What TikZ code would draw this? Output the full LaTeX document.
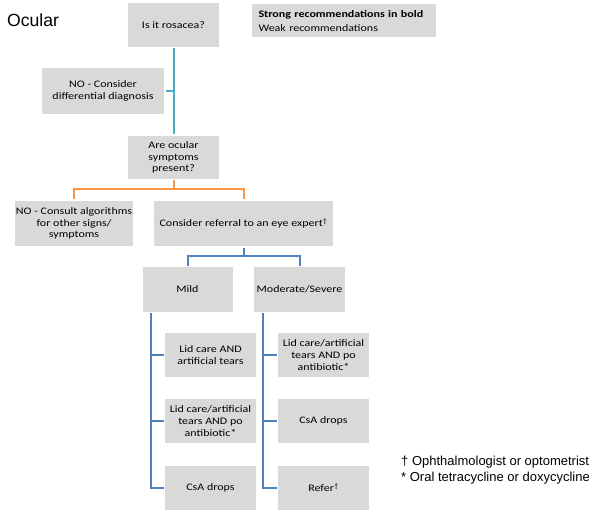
\documentclass[tikz,border=0pt]{standalone}
\usepackage{fontspec}
\setmainfont{Carlito}[FakeStretch=1.2]
\newfontfamily\arialf{Liberation Sans}
\definecolor{boxgray}{HTML}{D9D9D9}
\definecolor{teal1}{HTML}{4BACC6}
\definecolor{orange1}{HTML}{F79646}
\definecolor{blue1}{HTML}{4F81BD}
\tikzset{
  box/.style={fill=boxgray, inner sep=0pt, outer sep=1.5pt, align=center,
    font=\fontsize{10}{11.7}\selectfont, text=black},
  conn/.style={line width=2pt},
}
\begin{document}
\begin{tikzpicture}[x=1pt,y=-1pt]
\useasboundingbox (0,0) rectangle (594,513);
% title
\node[font=\arialf\fontsize{17.6}{20}\selectfont, anchor=base west, inner sep=0pt, text=black] (title) at (7,26.8) {Ocular};
% legend
\node[box, anchor=north west, minimum height=33pt, text width=170pt, inner xsep=7pt, align=left,
  font=\fontsize{10}{14}\selectfont] (legend) at (250,3)
  {\textbf{Strong recommendations in bold}\\Weak recommendations};
% boxes
\node[box, minimum width=91pt, minimum height=44pt] (rosacea) at (173.5,25) {Is it rosacea?};
\node[box, minimum width=122pt, minimum height=46pt] (ddx) at (103,91) {NO - Consider\\differential diagnosis};
\node[box, minimum width=91pt, minimum height=43pt] (ocular) at (173.5,157.5) {Are ocular\\symptoms\\present?};
\node[box, minimum width=118pt, minimum height=45pt] (consult) at (74,223.5) {NO - Consult algorithms\\for other signs/\\symptoms};
\node[box, minimum width=179pt, minimum height=45pt] (referral) at (243.5,223.5) {Consider referral to an eye expert\textsuperscript{†}};
\node[box, minimum width=90pt, minimum height=45pt] (mild) at (187.5,289.5) {Mild};
\node[box, minimum width=91pt, minimum height=45pt] (mod) at (299.5,289.5) {Moderate/Severe};
% mild children
\node[box, minimum width=91pt, minimum height=44pt] (m1) at (210.5,355) {Lid care AND\\artificial tears};
\node[box, minimum width=91pt, minimum height=44pt] (m2) at (210.5,421) {Lid care/artificial\\tears AND po\\antibiotic*};
\node[box, minimum width=91pt, minimum height=44pt] (m3) at (210.5,487.5) {CsA drops};
% moderate children
\node[box, minimum width=91pt, minimum height=44pt] (s1) at (323.5,355) {Lid care/artificial\\tears AND po\\antibiotic*};
\node[box, minimum width=91pt, minimum height=44pt] (s2) at (323.5,421) {CsA drops};
\node[box, minimum width=91pt, minimum height=44pt] (s3) at (323.5,487.5) {Refer\textsuperscript{†}};
% footnotes
\node[font=\arialf\fontsize{13}{15.3}\selectfont, anchor=base west, inner sep=0pt, align=left, text=black] (fn) at (401,481)
  {† Ophthalmologist or optometrist\\* Oral tetracycline or doxycycline};
% connectors
\draw[conn, teal1] (rosacea.south) -- (ocular.north);
\draw[conn, teal1] (ddx.east) -- (ddx.east -| rosacea.south);
\coordinate (ob) at (173.5,189);
\draw[conn, orange1] (consult.north) |- (ob) -| (referral.north);
\draw[conn, orange1] (ocular.south) -- (ob);
\coordinate (bb) at (243.5,256);
\draw[conn, blue1] (mild.north) |- (bb) -| (mod.north);
\draw[conn, blue1] (referral.south) -- (bb);
\coordinate (mt) at (150.5,313);
\coordinate (st) at (263,313);
\draw[conn, blue1] (mt) |- (m3.west);
\draw[conn, blue1] (m1.west) -- (m1.west -| mt);
\draw[conn, blue1] (m2.west) -- (m2.west -| mt);
\draw[conn, blue1] (st) |- (s3.west);
\draw[conn, blue1] (s1.west) -- (s1.west -| st);
\draw[conn, blue1] (s2.west) -- (s2.west -| st);
\end{tikzpicture}
\end{document}
